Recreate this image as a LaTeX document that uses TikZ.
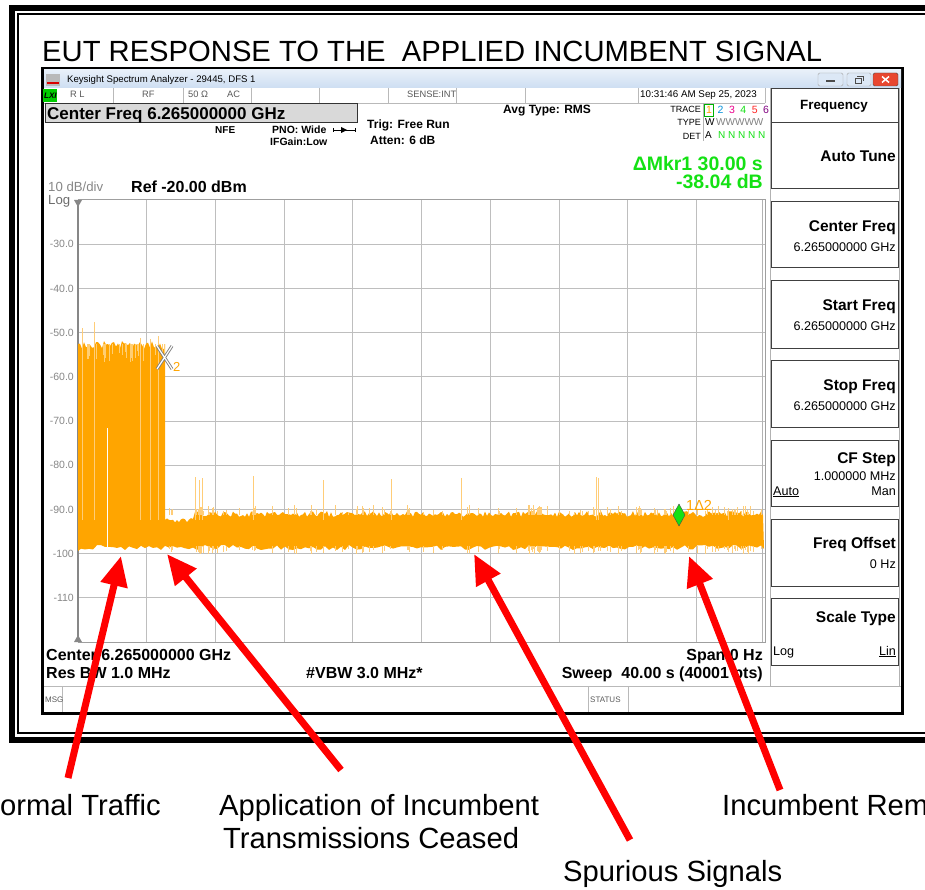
\documentclass[tikz,border=0pt]{standalone}
\usepackage{fontspec}
\setmainfont{Liberation Sans}
\usetikzlibrary{arrows.meta}
\definecolor{trace}{RGB}{255,165,0}
\definecolor{tracelight}{RGB}{255,205,120}
\definecolor{mkgreen}{RGB}{20,225,20}
\definecolor{gridgray}{RGB}{190,190,190}
\definecolor{labgray}{RGB}{135,135,135}
\definecolor{calloutred}{RGB}{255,0,0}
\definecolor{barblue}{RGB}{205,222,242}
\newcommand\fsz[1]{\fontsize{#1}{#1}\selectfont}
\tikzset{
  > = {Triangle[length=30pt,width=26pt]},
  callout/.style = {draw=calloutred, line width=7pt, ->},
  lab/.style = {inner sep=0pt, anchor=base west, font=\fsz{29.2}},
  txt/.style = {inner sep=0pt, anchor=base west},
  txtr/.style = {inner sep=0pt, anchor=base east},
  small/.style = {font=\fsz{9.3}, text=black!65},
  softkey/.style = {txtr, font=\bfseries\fsz{15.5}},
  softval/.style = {txtr, font=\fsz{12.6}},
  bottominfo/.style = {font=\bfseries\fsz{16}},
  grid line/.style = {draw=gridgray, line width=0.8pt},
  spike/.style = {draw=tracelight, line width=0.7pt},
}

\begin{document}
\begin{tikzpicture}[x=1pt,y=-1pt]
\useasboundingbox (0,0) rectangle (925,890);
\begin{scope}
\clip (0,0) rectangle (925,890);

% frame
\draw[line width=6.5pt] (12,8) rectangle (960,740);
\draw[line width=2.4pt] (18,14) rectangle (955,733);
\node[txt, font=\fsz{29.2}] (title) at (42,62) {EUT RESPONSE TO THE \ APPLIED INCUMBENT SIGNAL};

% analyzer window
\draw[fill=white, line width=3pt] (42.5,68.5) rectangle (902.5,713.5);
\shade[top color=barblue!45, bottom color=barblue] (44,70) rectangle (901,88);
\fill[gray!55] (46,74) rectangle (60,86);
\fill[red!85!black] (47,82) rectangle (59,84);
\node[txt, font=\fsz{9.6}] (wintitle) at (67,83) {Keysight Spectrum Analyzer - 29445, DFS 1};
\draw[gray!70, fill=barblue!70, rounded corners=1.5pt] (818,73) rectangle (843,86);
\draw[gray!70, fill=barblue!70, rounded corners=1.5pt] (847,73) rectangle (871,86);
\draw[gray!60!black, fill=red!60!brown!90, rounded corners=1.5pt] (873,73) rectangle (898,86);
\draw[black!70, line width=1.2pt] (826,81) -- (835,81);
\draw[black!70] (855,78) rectangle (861,83) (857,76) -- (863,76) -- (863,81);
\draw[white, line width=1.5pt] (882,76.5) -- (889,82.5) (882,82.5) -- (889,76.5);

% status row
\draw[gray!55] (44,103) -- (765,103);
\foreach \x in {113,183,251,319,388,456,525,638,765}
  \draw[gray!55] (\x,88) -- (\x,103);
\fill[green!80!black] (43,89) rectangle (57,102);
\node[txt, font=\bfseries\itshape\fsz{8}] (lxi) at (44,99) {LXI};
\node[txt, small] (rl) at (70,98) {R L};
\node[txt, small] (rf) at (142,98) {RF};
\node[txt, small] (ohm) at (188,98) {50 Ω};
\node[txt, small] (ac) at (227,98) {AC};
\node[txt, small] (sense) at (407,98) {SENSE:INT};
\node[txt, font=\fsz{9.8}] (date) at (640,98) {10:31:46 AM Sep 25, 2023};

% settings
\draw[fill=gray!30, draw=black!80, line width=1pt] (45,104) rectangle (357,123);
\node[txt, font=\bfseries\fsz{17}] (cfreq) at (47,119.5) {Center Freq 6.265000000 GHz};
\node[txt, font=\bfseries\fsz{10}] (nfe) at (215,134) {NFE};
\node[txt, font=\bfseries\fsz{10.5}] (pno) at (272,134) {PNO: Wide};
\draw (333,130) -- (355,130) (333,128) -- (333,132) (355,128) -- (355,132);
\fill (341,127) -- (347,130) -- (341,133) -- cycle;
\node[txt, font=\bfseries\fsz{10.5}] (ifgain) at (270,146) {IFGain:Low};
\node[txt, font=\bfseries\fsz{12}] (trig) at (367,129) {Trig: Free Run};
\node[txt, font=\bfseries\fsz{12}] (atten) at (370,145) {Atten: 6 dB};
\node[txt, font=\bfseries\fsz{12}] (avg) at (503,114) {Avg Type: RMS};
\node[txtr, font=\fsz{9}] (tracehd) at (701,113) {TRACE};
\node[txtr, font=\fsz{9}] (typehd) at (701,126) {TYPE};
\node[txtr, font=\fsz{9}] (dethd) at (701,140) {DET};
\draw[gray!60] (703,103) -- (703,141);
\draw[green!70!black] (704,104) rectangle (713,116);
\foreach \d/\c [count=\i] in {1/trace,2/cyan!80!blue,3/magenta,4/mkgreen,5/red!80!pink,6/violet}
  \node[txt, font=\fsz{10.5}, text=\c] (tr\d) at ({706+11.4*(\i-1)},114) {\d};
\node[txt, font=\fsz{10}] (typew) at (705,126) {W};
\node[txt, font=\fsz{10}, text=gray] (typerest) at (716,126) {WWWWW};
\node[txt, font=\fsz{10}] (deta) at (705,139) {A};
\node[txt, font=\fsz{10}, text=mkgreen] (detn) at (718,139) {N N N N N};

% marker readout
\node[txtr, font=\bfseries\fsz{19.5}, text=mkgreen] (mkr) at (763,171) {ΔMkr1 30.00 s};
\node[txtr, font=\bfseries\fsz{19.5}, text=mkgreen] (mkrdb) at (763,189) {-38.04 dB};
\node[txt, font=\fsz{13.2}, text=labgray] (scale) at (48,192) {10 dB/div};
\node[txt, font=\fsz{13.2}, text=labgray!80!black] (logtxt) at (48,205) {Log};
\node[txt, font=\bfseries\fsz{16}] (ref) at (131,193) {Ref -20.00 dBm};

% graticule
\foreach \i in {1,...,9} {
  \draw[grid line] (78,{200+44.2*\i}) -- (765,{200+44.2*\i});
  \draw[grid line] ({78+68.7*\i},200) -- ({78+68.7*\i},642);
}
\draw[draw=gray!75, line width=1pt] (78,200) rectangle (765,642);
\draw[draw=gray!60] (762,200) -- (762,642);
\draw[labgray, line width=2.6pt] (78,200) -- (78,642);
\fill[labgray] (74,200) -- (82,200) -- (78,207) -- cycle;
\fill[labgray] (74,642) -- (82,642) -- (78,635) -- cycle;
\foreach \v [count=\i] in {-30.0,-40.0,-50.0,-60.0,-70.0,-80.0,-90.0,-100,-110}
  \node[inner sep=0pt, anchor=east, font=\fsz{10.5}, text=labgray] (ylab\i) at (74,{200+44.2*\i}) {\v};

% trace
\pgfmathsetseed{42}
\fill[trace] (78,551) -- (78,344)
  \foreach \x in {80,82,...,164} { -- (\x,{341+8*rnd}) }
  -- (165,344) -- (165,520)
  \foreach \x in {167,169,...,763} { -- (\x,{511+6*(\x<195)+6*rnd}) }
  -- (764,549)
  \foreach \x in {761,757,...,79} { -- (\x,{545+5*rnd}) }
  -- cycle;
\foreach \i in {1,...,30} {
  \pgfmathsetmacro\xx{80+84*rnd}
  \pgfmathsetmacro\yy{350+12*rnd}
  \draw[white!45!trace, line width=0.5pt] (\xx,344) -- (\xx,\yy);
}
\foreach \i in {1,...,120} {
  \pgfmathsetmacro\xx{168+594*rnd}
  \pgfmathsetmacro\yy{505+7*rnd}
  \pgfmathsetmacro\yb{549+5*rnd}
  \draw[spike, line width=0.5pt] (\xx,515) -- (\xx,\yy) (\xx,546) -- (\xx,\yb);
}
\foreach \x/\t in {82/328,94/322,140/338,150/339,158/336,195/477,199/480,202/478,253/476,323/480,391/479,461/478,596/477,598/478,728/509}
  \draw[spike] (\x,520) -- (\x,\t);
\draw[white, line width=0.8pt] (107,428) -- (107,548);

% markers
\draw[gray, line width=3pt] (157,346) -- (172,369) (157,369) -- (172,346);
\draw[white, line width=1.2pt] (157,346) -- (172,369) (157,369) -- (172,346);
\node[txt, font=\fsz{13}, text=trace] (mk2) at (173,371) {2};
\draw[fill=mkgreen, draw=black!70] (679,504) -- (685,515) -- (679,526) -- (673,515) -- cycle;
\node[txt, font=\fsz{14.5}, text=trace] (mk1) at (686,510) {1Δ2};

% bottom settings
\node[txt, bottominfo] (center) at (46,660) {Center 6.265000000 GHz};
\node[txtr, bottominfo] (span) at (763,660) {Span 0 Hz};
\node[txt, bottominfo] (rbw) at (46,678) {Res BW 1.0 MHz};
\node[txt, bottominfo] (vbw) at (306,678) {\#VBW 3.0 MHz*};
\node[txtr, bottominfo] (sweep) at (763,678) {Sweep \ 40.00 s (40001 pts)};
\draw[gray!55] (44,686) -- (901,686) (62,686) -- (62,712) (588,686) -- (588,712) (628,686) -- (628,712);
\node[txt, small, font=\fsz{8}] (msg) at (45,702) {MSG};
\node[txt, small, font=\fsz{8}] (status) at (590,702) {STATUS};

% softkey panel
\draw[gray!60, line width=1pt] (770,89) rectangle (899,686);
\foreach \yt/\yb in {89/123,123/189,202/268,281/348,360/427,440/506,519/586,598/665}
  \draw[draw=black!75, fill=white, line width=1pt] (771,\yt) rectangle (898,\yb);
\node[inner sep=0pt, anchor=base, font=\bfseries\fsz{13.4}] (freqmenu) at (834,110) {Frequency};
\node[softkey] (autotune) at (896,162) {Auto Tune};
\foreach \k/\v/\y in {Center Freq/6.265000000 GHz/232,Start Freq/6.265000000 GHz/310,Stop Freq/6.265000000 GHz/390,Freq Offset/0 Hz/548} {
  \node[softkey] (key\y) at (896,\y) {\k};
  \node[softval] (val\y) at (896,{\y+20}) {\v};
}
\node[softkey] (cfstep) at (896,463) {CF Step};
\node[softval] (cfval) at (896,480) {1.000000 MHz};
\node[txt, font=\fsz{12.6}] (cfauto) at (773,495) {\underline{Auto}};
\node[softval] (cfman) at (896,495) {Man};
\node[softkey] (scaletype) at (896,622) {Scale Type};
\node[txt, font=\fsz{12.6}] (sclog) at (773,655) {Log};
\node[softval] (sclin) at (896,655) {\underline{Lin}};

% callouts
\node[lab] (normLab) at (0,815) {ormal Traffic};
\node[lab] (applLab) at (219,815) {Application of Incumbent};
\node[lab] (applLabB) at (223,848) {Transmissions Ceased};
\node[lab] (spurLab) at (563,881) {Spurious Signals};
\node[lab] (remLab) at (722,815) {Incumbent Rem};
\coordinate (normTail) at (68,778);
\coordinate (normTip) at (121,556);
\coordinate (applTail) at (341,770);
\coordinate (applTip) at (167,554);
\coordinate (spurTail) at (630,840);
\coordinate (spurTip) at (474,554);
\coordinate (remTail) at (780,790);
\coordinate (remTip) at (689,556);
\draw[callout] (normTail) -- (normTip);
\draw[callout] (applTail) -- (applTip);
\draw[callout] (spurTail) -- (spurTip);
\draw[callout] (remTail) -- (remTip);
\end{scope}
\end{tikzpicture}
\end{document}
